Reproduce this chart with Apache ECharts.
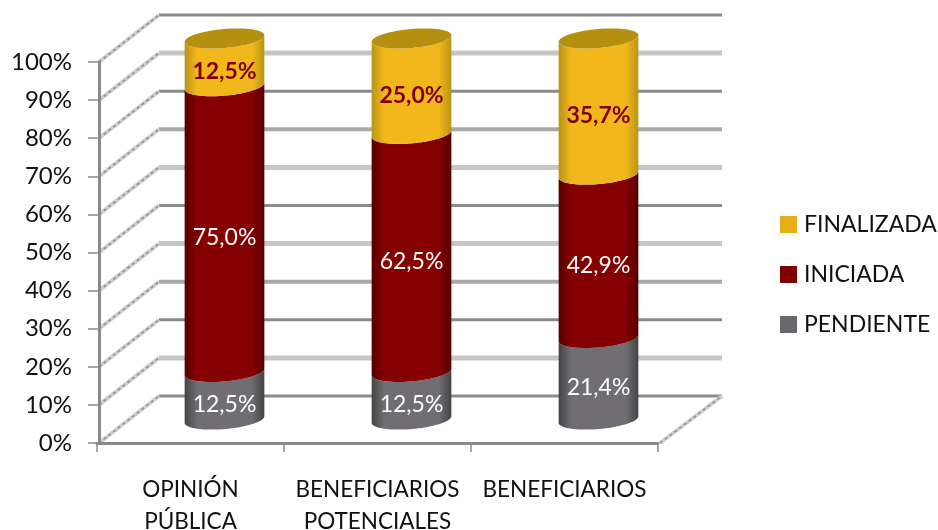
<!DOCTYPE html>
<html>
<head>
<meta charset="utf-8">
<script src="https://cdn.jsdelivr.net/npm/echarts@6/dist/echarts.min.js"></script>
<style>html,body{margin:0;padding:0;background:#fff}#c{width:938px;height:530px}</style>
</head>
<body>
<div id="c"></div>
<script>
var categories = ['OPINIÓN\nPÚBLICA', 'BENEFICIARIOS\nPOTENCIALES', 'BENEFICIARIOS'];
var seriesNames = ['PENDIENTE', 'INICIADA', 'FINALIZADA'];
var pendiente = [12.5, 12.5, 21.4];
var iniciada = [75.0, 62.5, 42.9];
var finalizada = [12.5, 25.0, 35.7];
var gridTicks = [0, 10, 20, 30, 40, 50, 60, 70, 80, 90, 100];

var FONT = 'Lato, Carlito, sans-serif';
var DEPTH = [62, -47];
var A = 40, B = 9.5, TILT = -5 * Math.PI / 180;
var gridLook = [
  ['#8c8c8c', 3], ['#c6c6c6', 5], ['#8a8a8a', 3], ['#a8a8a8', 4], ['#c6c6c6', 5], ['#8c8c8c', 3],
  ['#c6c6c6', 5], ['#a8a8a8', 4], ['#8a8a8a', 3], ['#c6c6c6', 5], ['#8c8c8c', 3]
];

function sideFill(edge, mid) {
  return new echarts.graphic.LinearGradient(0, 0, 1, 0, [
    { offset: 0, color: edge }, { offset: 0.16, color: mid }, { offset: 0.5, color: mid },
    { offset: 0.84, color: mid }, { offset: 1, color: edge }
  ]);
}
var looks = [
  { edge: '#444446', mid: '#706e72', text: '#ffffff', weight: 'normal' },
  { edge: '#560000', mid: '#850000', text: '#ffffff', weight: 'normal' },
  { edge: '#ba9416', mid: '#f2b81b', text: '#7f0000', weight: 'bold' }
];

function ellipsePoint(cx, cy, t) {
  var ex = A * Math.cos(t), ey = B * Math.sin(t);
  return [cx + ex * Math.cos(TILT) - ey * Math.sin(TILT), cy + ex * Math.sin(TILT) + ey * Math.cos(TILT)];
}
function lowerArc(cx, cy, reverse) {
  var pts = [], n = 40;
  for (var i = 0; i <= n; i++) {
    var t = Math.PI * i / n;
    pts.push(ellipsePoint(cx, cy, reverse ? Math.PI - t : t));
  }
  return pts;
}
function fullEllipse(cx, cy) {
  var pts = [], n = 72;
  for (var i = 0; i < n; i++) pts.push(ellipsePoint(cx, cy, 2 * Math.PI * i / n));
  return pts;
}

function makeSegmentRender(idx) {
  return function (params, api) {
    var cat = api.value(0), lo = api.value(1), hi = api.value(2);
    var pLo = api.coord([cat, lo]), pHi = api.coord([cat, hi]);
    var cx = pLo[0] + DEPTH[0] / 2 + 3, yLo = pLo[1] + DEPTH[1] / 2, yHi = pHi[1] + DEPTH[1] / 2;
    var look = looks[idx];
    var poly = lowerArc(cx, yHi, false).concat(lowerArc(cx, yLo, true));
    var kids = [{
      type: 'polygon', shape: { points: poly }, style: { fill: sideFill(look.edge, look.mid) }
    }];
    if (idx === 2) {
      kids.push({ type: 'polygon', shape: { points: fullEllipse(cx, yHi) }, style: { fill: '#b58f10' } });
    }
    kids.push({
      type: 'text',
      style: {
        text: (hi - lo).toFixed(1).replace('.', ',') + '%',
        x: cx, y: (yLo + yHi) / 2 + 9, align: 'center', verticalAlign: 'middle',
        fill: look.text, font: look.weight + ' 23px ' + FONT
      }
    });
    return { type: 'group', children: kids };
  };
}

function renderWall(params, api) {
  var tick = api.value(1), i = params.dataIndex, cs = params.coordSys;
  var y = api.coord([0, tick])[1], x0 = cs.x + 2, x1 = cs.x + cs.width;
  var look = gridLook[i];
  var bx = x0 + DEPTH[0] - 2, by = y + DEPTH[1];
  var kids = [
    { type: 'line', shape: { x1: bx, y1: by, x2: x1 + DEPTH[0] + 2, y2: by }, style: { stroke: look[0], lineWidth: look[1] } },
    { type: 'line', shape: { x1: x0, y1: y, x2: bx, y2: by }, style: { stroke: '#cfcfcf', lineWidth: 4 } },
    { type: 'line', shape: { x1: x0, y1: y, x2: bx, y2: by }, style: { stroke: '#8f8f8f', lineWidth: 1.5, lineDash: [3, 3] } }
  ];
  if (i === 0) {
    var fx = x1 + 2;
    kids.push({ type: 'line', shape: { x1: fx, y1: y, x2: fx + DEPTH[0], y2: by }, style: { stroke: '#cfcfcf', lineWidth: 4 } });
    kids.push({ type: 'line', shape: { x1: fx, y1: y, x2: fx + DEPTH[0], y2: by }, style: { stroke: '#8f8f8f', lineWidth: 1.5, lineDash: [3, 3] } });
  }
  return { type: 'group', children: kids };
}

var stacks = [pendiente, iniciada, finalizada];
var legendColors = ['#6a686c', '#7f0000', '#e8ae17'];
var series = [{
  name: 'walls', type: 'custom', z: 1, silent: true,
  renderItem: renderWall, encode: { x: 0, y: 1 },
  data: gridTicks.map(function (t) { return [0, t]; })
}];
var running = categories.map(function () { return 0; });
stacks.forEach(function (vals, s) {
  series.push({
    name: seriesNames[s], type: 'custom', z: 2 + s,
    renderItem: makeSegmentRender(s),
    itemStyle: { color: legendColors[s] },
    encode: { x: 0, y: [1, 2] },
    data: vals.map(function (v, c) {
      var lo = running[c];
      running[c] = lo + v;
      return [c, lo, Math.round(running[c] * 10) / 10];
    })
  });
});

var chart = echarts.init(document.getElementById('c'), null, { renderer: 'canvas' });
chart.setOption({
  animation: false,
  backgroundColor: '#ffffff',
  grid: { left: 97, top: 62, width: 561, height: 381, containLabel: false, outerBoundsMode: 'none' },
  legend: {
    orient: 'vertical', left: 775, top: 208,
    data: ['FINALIZADA', 'INICIADA', 'PENDIENTE'],
    icon: 'rect', itemWidth: 17, itemHeight: 17, itemGap: 27,
    selectedMode: false,
    textStyle: { fontFamily: FONT, fontSize: 23, lineHeight: 17, color: '#111111', padding: [0, 0, 0, 2] }
  },
  xAxis: {
    type: 'category', data: categories, z: 6,
    axisLine: { show: true, onZero: false, lineStyle: { color: '#8a8a8a', width: 3 } },
    axisTick: { show: true, length: 9, alignWithLabel: false, lineStyle: { color: '#8a8a8a', width: 1.5 } },
    axisLabel: { interval: 0, margin: 31, lineHeight: 32, fontFamily: FONT, fontSize: 22.5, color: '#111111', hideOverlap: false },
    splitLine: { show: false }
  },
  yAxis: {
    type: 'value', min: 0, max: 100, interval: 10, z: 6, offset: -2,
    axisLine: { show: true, lineStyle: { color: '#8a8a8a', width: 3 } },
    axisTick: { show: true, length: 11, lineStyle: { color: '#8a8a8a', width: 1.5 } },
    axisLabel: { margin: 27, padding: [6, 0, 0, 0], formatter: '{value}%', fontFamily: FONT, fontSize: 24, color: '#111111' },
    splitLine: { show: false }
  },
  tooltip: { show: false },
  series: series
});
</script>
</body>
</html>
